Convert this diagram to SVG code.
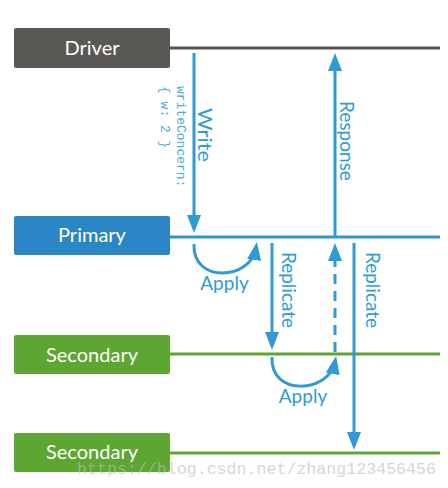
<svg xmlns="http://www.w3.org/2000/svg" width="448" height="488" viewBox="0 0 448 488">
<style>
.box-text{font-family:Lato,"Open Sans",sans-serif;font-size:20px;fill:#fff;text-anchor:middle}
.lbl{font-family:Lato,"Open Sans",sans-serif;font-size:19px;fill:#2f9ad5}
.mono{font-family:"Liberation Mono",monospace;font-size:13px;fill:#4aa8de}
.arrow{fill:none;stroke:#2f9ad5;stroke-width:3}
.dash{stroke-dasharray:10 7}
.life{stroke-width:3.2}
</style>
<defs>
<marker id="ah" viewBox="0 0 18 14" refX="12" refY="7" markerWidth="18" markerHeight="14" orient="auto" markerUnits="userSpaceOnUse">
<path d="M0 0 L18 7 L0 14 z" fill="#2f9ad5"/>
</marker>
</defs>
<rect width="448" height="488" fill="#fff"/>
<g id="driver">
<rect x="14" y="28" width="156" height="40" rx="2" fill="#5a5854"/>
<text class="box-text" x="92" y="55">Driver</text>
<line class="life" x1="170" y1="48" x2="440" y2="48" stroke="#555452"/>
</g>
<g id="primary">
<rect x="14" y="216" width="156" height="39" rx="2" fill="#2a86c4"/>
<text class="box-text" x="92" y="242">Primary</text>
<line class="life" x1="170" y1="237" x2="440" y2="237" stroke="#2f95d2"/>
</g>
<g id="secondary1">
<rect x="14" y="335" width="156" height="39" rx="2" fill="#5ea632"/>
<text class="box-text" x="92" y="361.5">Secondary</text>
<line class="life" x1="170" y1="354" x2="440" y2="354" stroke="#5ea632"/>
</g>
<g id="secondary2">
<rect x="14" y="433" width="156" height="39" rx="2" fill="#5ea632"/>
<text class="box-text" x="92" y="459">Secondary</text>
<line class="life" x1="170" y1="453" x2="440" y2="453" stroke="#5ea632"/>
</g>
<g id="connectors">
<path class="arrow" d="M194 53 L194 227" marker-end="url(#ah)"/>
<path class="arrow" d="M335 237 L335 59" marker-end="url(#ah)"/>
<path class="arrow" d="M194 244 C192 284,251 280,256 248" marker-end="url(#ah)"/>
<path class="arrow" d="M272 243 L272 344" marker-end="url(#ah)"/>
<path class="arrow dash" d="M335 352 L335 249" marker-end="url(#ah)"/>
<path class="arrow" d="M354 243 L354 444" marker-end="url(#ah)"/>
<path class="arrow" d="M272 357 C270 397,329 393,335 362" marker-end="url(#ah)"/>
</g>
<g id="labels">
<text class="lbl" transform="translate(198,135) rotate(90)" text-anchor="middle" font-size="20" textLength="54" lengthAdjust="spacingAndGlyphs">Write</text>
<text class="mono" transform="translate(177,86) rotate(90)">writeConcern:</text>
<text class="mono" transform="translate(161,86) rotate(90)">{ w: 2 }</text>
<text class="lbl" transform="translate(340,141) rotate(90)" text-anchor="middle">Response</text>
<text class="lbl" transform="translate(282,290) rotate(90)" text-anchor="middle">Replicate</text>
<text class="lbl" transform="translate(366,290) rotate(90)" text-anchor="middle">Replicate</text>
<text class="lbl" x="224.5" y="290" text-anchor="middle">Apply</text>
<text class="lbl" x="303" y="403" text-anchor="middle">Apply</text>
</g>
<text x="77" y="474" font-family="Liberation Mono,monospace" font-size="16.6" fill="#bbbbbb" opacity="0.6" textLength="359" lengthAdjust="spacingAndGlyphs">https://blog.csdn.net/zhang123456456</text>
</svg>
